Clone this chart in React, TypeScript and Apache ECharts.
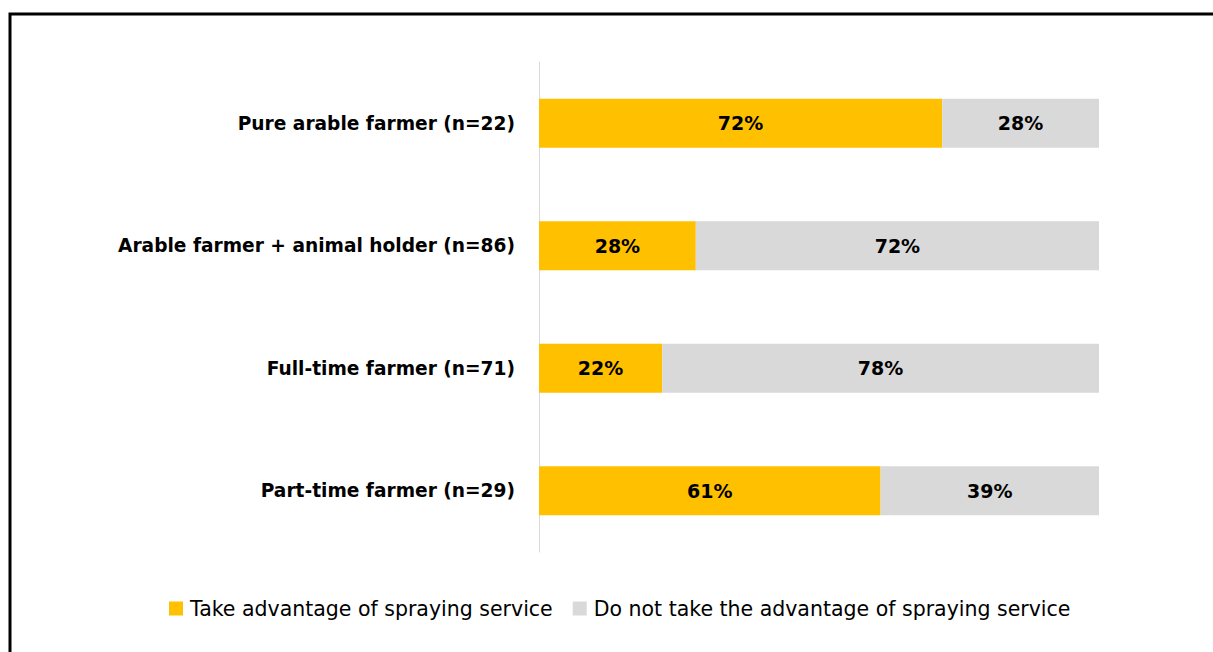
import React, { useEffect, useRef } from "react";
import * as echarts from "echarts";

const categories = [
  "Pure arable farmer (n=22)",
  "Arable farmer + animal holder (n=86)",
  "Full-time farmer (n=71)",
  "Part-time farmer (n=29)",
];
const takeValues = [72, 28, 22, 61];
const notTakeValues = [28, 72, 78, 39];
const seriesNames = [
  "Take advantage of spraying service",
  "Do not take the advantage of spraying service",
];

export default function App() {
  const ref = useRef<HTMLDivElement>(null);
  useEffect(() => {
    document.body.style.margin = "0";
    const chart = echarts.init(ref.current!, null, { renderer: "svg" });
    const labelStyle = {
      show: true,
      position: "inside",
      formatter: "{c}%",
      color: "#000",
      fontWeight: "bold",
      fontSize: 19,
      fontFamily: "DejaVu Sans",
    };
    chart.setOption({
      animation: false,
      backgroundColor: "#fff",
      graphic: [
        {
          type: "rect",
          shape: { x: 10, y: 14, width: 1240, height: 700 },
          style: { fill: "none", stroke: "#000", lineWidth: 3 },
          silent: true,
        },
      ],
      grid: { left: 539, top: 62, width: 560, height: 490 },
      legend: {
        left: 164,
        top: 593,
        itemWidth: 14,
        itemHeight: 14,
        itemGap: 20,
        icon: "rect",
        textStyle: { fontSize: 20.5, color: "#000", fontFamily: "DejaVu Sans", padding: [0, 0, 0, 2] },
        data: seriesNames,
      },
      xAxis: {
        type: "value",
        min: 0,
        max: 100,
        show: false,
      },
      yAxis: {
        type: "category",
        data: categories,
        inverse: true,
        axisLine: { show: true, lineStyle: { color: "#d9d9d9", width: 1 } },
        axisTick: { show: false },
        axisLabel: {
          color: "#000",
          fontWeight: "bold",
          fontSize: 18.6,
          fontFamily: "DejaVu Sans",
          margin: 24,
        },
      },
      series: [
        {
          name: seriesNames[0],
          type: "bar",
          stack: "total",
          barWidth: 49,
          data: takeValues,
          itemStyle: { color: "#FFC000" },
          label: labelStyle,
        },
        {
          name: seriesNames[1],
          type: "bar",
          stack: "total",
          barWidth: 49,
          data: notTakeValues,
          itemStyle: { color: "#D9D9D9" },
          label: labelStyle,
        },
      ],
    });
    return () => chart.dispose();
  }, []);
  return (
    <div
      ref={ref}
      style={{ position: "absolute", left: 0, top: 0, width: 1213, height: 652 }}
    />
  );
}
